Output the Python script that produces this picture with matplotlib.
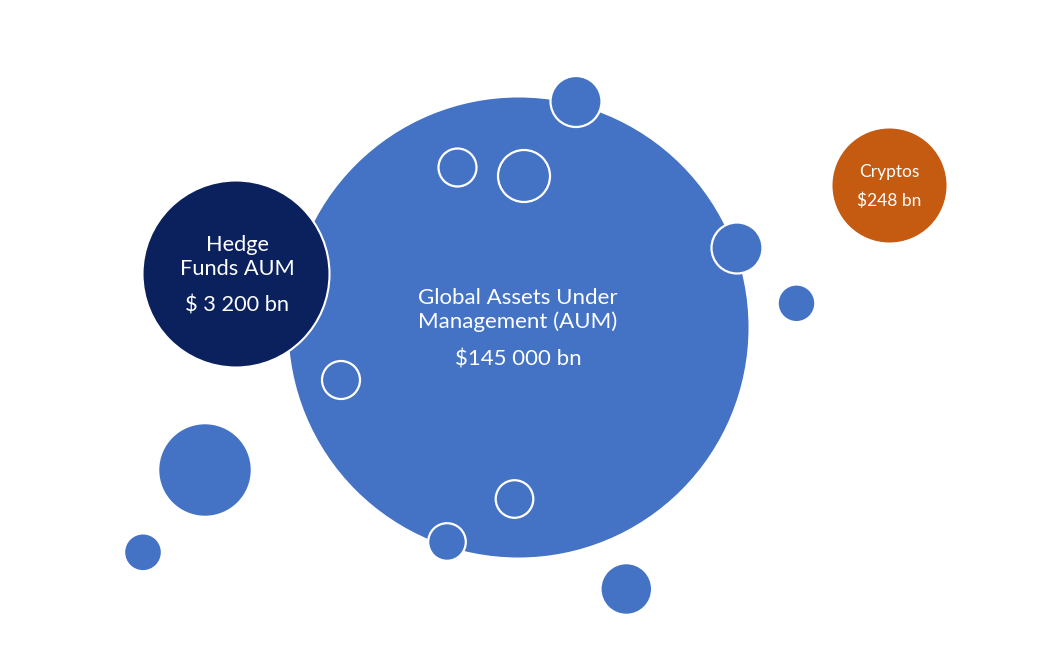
import matplotlib.pyplot as plt
from matplotlib.patches import Circle

plt.rcParams['font.family'] = ['Lato', 'DejaVu Sans']

# main bubbles (pixel-space centres and radii)
main_names = ["Global Assets Under\nManagement (AUM)", "Hedge\nFunds AUM", "Cryptos"]
main_values = ["$145 000 bn", "$ 3 200 bn", "$248 bn"]
main_x = [518.5, 236, 889.5]
main_y = [327.5, 274, 185.5]
main_r = [230, 93.5, 57]
main_colors = ["#4472C4", "#0A215E", "#C55A11"]

# decorative small bubbles
small_x = [576, 457.5, 524, 737, 796.5, 341, 205, 143, 514.5, 447, 626.3]
small_y = [101.5, 167.5, 176, 248, 303.3, 380, 470, 552.3, 499, 542, 589]
small_r = [25.5, 19, 26, 25.5, 17.7, 19, 45.7, 17.8, 18.8, 18.8, 24.7]
small_edge = [True, True, True, True, False, True, False, False, True, True, False]

fig = plt.figure(figsize=(10.62, 6.6), dpi=100)
ax = fig.add_axes([0, 0, 1, 1])
ax.set_xlim(0, 1062)
ax.set_ylim(660, 0)
ax.set_aspect('equal')
ax.axis('off')

ax.add_patch(Circle((main_x[0], main_y[0]), main_r[0], facecolor=main_colors[0],
                    edgecolor='none', zorder=1))
ax.add_patch(Circle((main_x[1], main_y[1]), main_r[1], facecolor=main_colors[1],
                    edgecolor='white', linewidth=1.5, zorder=2))
ax.add_patch(Circle((main_x[2], main_y[2]), main_r[2], facecolor=main_colors[2],
                    edgecolor='none', zorder=2))

for x, y, r, e in zip(small_x, small_y, small_r, small_edge):
    ax.add_patch(Circle((x, y), r, facecolor="#4472C4",
                        edgecolor='white' if e else 'none', linewidth=1.6, zorder=3))

# labels
ax.text(518, 310, main_names[0], ha='center', va='center', color='white',
        fontsize=16, linespacing=1.22, zorder=4)
ax.text(518, 360, main_values[0], ha='center', va='center', color='white',
        fontsize=16, zorder=4)
ax.text(237, 257, main_names[1], ha='center', va='center', color='white',
        fontsize=15.7, linespacing=1.25, zorder=4)
ax.text(237, 306, main_values[1], ha='center', va='center', color='white',
        fontsize=15.7, zorder=4)
ax.text(889, 172, main_names[2], ha='center', va='center', color='white',
        fontsize=12.5, zorder=4)
ax.text(889, 201, main_values[2], ha='center', va='center', color='white',
        fontsize=12.5, zorder=4)

fig.savefig('out.png', dpi=100)
